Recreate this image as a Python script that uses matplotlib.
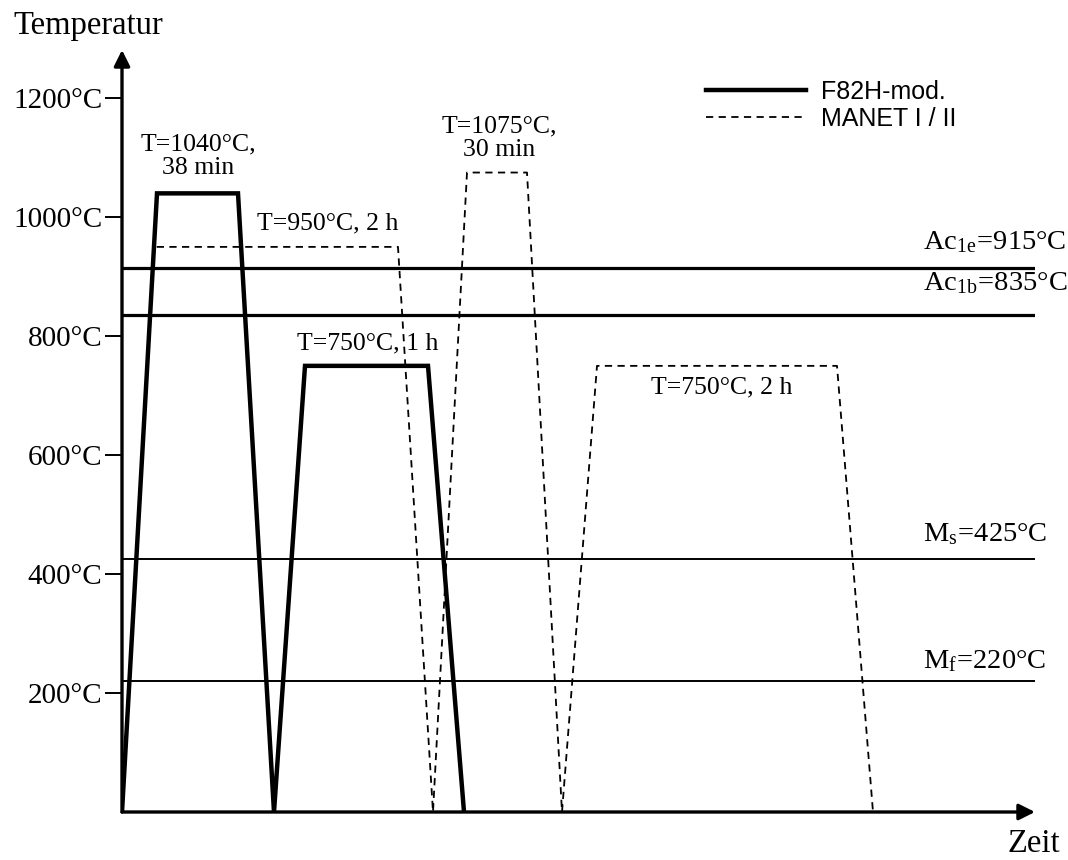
import matplotlib.pyplot as plt

plt.rcParams['font.family'] = ['Liberation Serif', 'DejaVu Serif']
plt.rcParams['mathtext.fontset'] = 'stix'

# Zeitachse in willkuerlichen Einheiten, Temperatur in °C
t_f82h = [0, 35, 116, 152, 183, 306, 342]
T_f82h = [0, 1040, 1040, 0, 750, 750, 0]

t_manet = [0, 32, 276, 311, 345, 405, 440, 475, 715, 751]
T_manet = [0, 950, 950, 0, 1075, 1075, 0, 750, 750, 0]

# Umwandlungstemperaturen
lines_T = [915, 835, 425, 220]
lines_lw = [2.3, 2.3, 1.4, 1.4]
lines_lbl = [r'Ac$_{\mathregular{1e}}$=915°C', r'Ac$_{\mathregular{1b}}$=835°C',
             r'M$_{\mathregular{s}}$=425°C', r'M$_{\mathregular{f}}$=220°C']
lines_lbl_T = [958, 888, 466, 252]

yticks = [200, 400, 600, 800, 1000, 1200]
yticklabels = ['200°C', '400°C', '600°C', '800°C', '1000°C', '1200°C']

# Beschriftungen der Haltestufen: (t, T, Text)
notes = [
    (76, 1102, 'T=1040°C,\n38 min'),
    (206, 990, 'T=950°C, 2 h'),
    (246, 788, 'T=750°C, 1 h'),
    (377, 1133, 'T=1075°C,\n30 min'),
    (600, 714, 'T=750°C, 2 h'),
]

xmax, ymax = 913, 1281

fig = plt.figure(figsize=(10.68, 8.6), dpi=100)
ax = fig.add_axes([122 / 1068, 48 / 860, 913 / 1068, 762 / 860])
ax.set_xlim(0, xmax)
ax.set_ylim(0, ymax)
for s in ax.spines.values():
    s.set_visible(False)

# Achsen mit Pfeilen
arrow = dict(arrowstyle='-|>', lw=2.4, color='k', mutation_scale=24, shrinkA=0, shrinkB=0)
ax.annotate('', xy=(1, 0), xytext=(0, 0), xycoords='axes fraction', arrowprops=arrow)
ax.annotate('', xy=(0, 1), xytext=(0, 0), xycoords='axes fraction', arrowprops=arrow)

ax.set_xticks([])
ax.set_yticks(yticks)
ax.set_yticklabels(yticklabels, fontsize=21)
ax.tick_params(axis='y', length=12, width=1.4, pad=2)

for T, lw in zip(lines_T, lines_lw):
    ax.hlines(T, 0, xmax, colors='k', lw=lw)
for T, lbl in zip(lines_lbl_T, lines_lbl):
    ax.text(801, T, lbl, fontsize=20.5, ha='left', va='center')

l1, = ax.plot(t_f82h, T_f82h, color='k', lw=3.2, solid_joinstyle='miter', label='F82H-mod.')
l2, = ax.plot(t_manet, T_manet, color='k', lw=1.3, ls=(0, (4, 3)), label='MANET I / II')

for t, T, txt in notes:
    ax.text(t, T, txt, fontsize=18.5, ha='center', va='center', linespacing=1.12)

ax.legend(handles=[l1, l2], loc='upper left', bbox_to_anchor=(706 / 1068, 1 - 80 / 860),
          bbox_transform=fig.transFigure, frameon=False, handlelength=4.0,
          handletextpad=0.6, labelspacing=0.12, borderpad=0, borderaxespad=0,
          prop={'family': 'Liberation Sans', 'size': 18})

fig.text(13 / 1068, 1 - 26 / 860, 'Temperatur', fontsize=23.5, ha='left', va='center')
fig.text(1060 / 1068, 1 - 844 / 860, 'Zeit', fontsize=23.5, ha='right', va='center')

fig.savefig('out.png', dpi=100)
